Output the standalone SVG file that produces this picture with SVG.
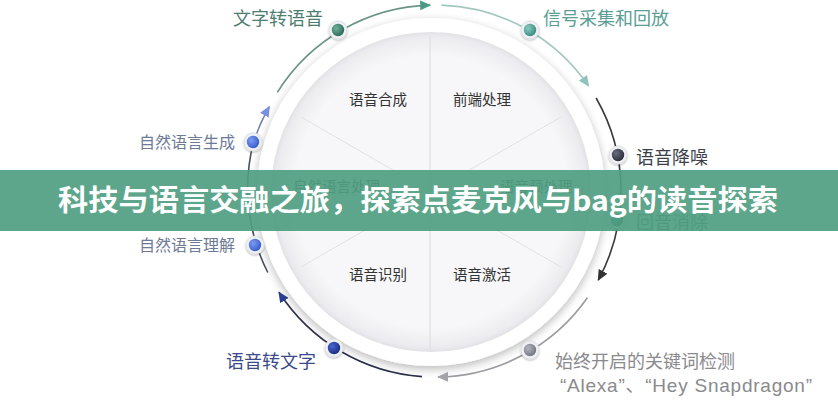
<svg xmlns="http://www.w3.org/2000/svg" width="838" height="400" viewBox="0 0 838 400">
<defs>
<style>
.cjk{font-family:"Noto Sans CJK SC","Noto Sans",sans-serif;}
.lbl{font-size:18px;}
.sm{font-size:16px;fill:#6e7a96;}
.ctr{font-size:14.5px;fill:#333;}
.arc{fill:none;stroke-width:1.6;}
.halo{fill:#eef0f3;stroke:#dfe2e6;stroke-width:1;}
.spoke{stroke:#e1e1e5;stroke-width:1;}
</style>
<filter id="sh" x="-20%" y="-20%" width="140%" height="140%">
<feGaussianBlur in="SourceAlpha" stdDeviation="5"/>
<feOffset dx="0" dy="3" result="b"/>
<feComponentTransfer><feFuncA type="linear" slope="0.28"/></feComponentTransfer>
<feMerge><feMergeNode/><feMergeNode in="SourceGraphic"/></feMerge>
</filter>
<filter id="dsh" x="-50%" y="-50%" width="200%" height="200%">
<feGaussianBlur in="SourceAlpha" stdDeviation="1.2"/>
<feOffset dx="0" dy="1"/>
<feComponentTransfer><feFuncA type="linear" slope="0.3"/></feComponentTransfer>
<feMerge><feMergeNode/><feMergeNode in="SourceGraphic"/></feMerge>
</filter>
<radialGradient id="disk" cx="50%" cy="50%" r="50%">
<stop offset="0.85" stop-color="#f7f7f9"/>
<stop offset="0.97" stop-color="#ececf0"/>
<stop offset="1" stop-color="#e2e2e6"/>
</radialGradient>
<radialGradient id="gGreen" cx="35%" cy="35%" r="65%"><stop offset="0" stop-color="#6fb09c"/><stop offset="1" stop-color="#2f6e5c"/></radialGradient>
<radialGradient id="gTeal" cx="35%" cy="35%" r="65%"><stop offset="0" stop-color="#8acbc0"/><stop offset="1" stop-color="#3f8f84"/></radialGradient>
<radialGradient id="gDark" cx="35%" cy="35%" r="65%"><stop offset="0" stop-color="#6a6d7c"/><stop offset="1" stop-color="#2e3140"/></radialGradient>
<radialGradient id="gDkGreen" cx="35%" cy="35%" r="65%"><stop offset="0" stop-color="#4f8f78"/><stop offset="1" stop-color="#1f5a46"/></radialGradient>
<radialGradient id="gGray" cx="35%" cy="35%" r="65%"><stop offset="0" stop-color="#b4b6be"/><stop offset="1" stop-color="#767984"/></radialGradient>
<radialGradient id="gNavy" cx="35%" cy="35%" r="65%"><stop offset="0" stop-color="#4a66d0"/><stop offset="1" stop-color="#1f2f8a"/></radialGradient>
<radialGradient id="gBlue" cx="35%" cy="35%" r="65%"><stop offset="0" stop-color="#7f9cf0"/><stop offset="1" stop-color="#3b5fd0"/></radialGradient>
<marker id="a1" viewBox="0 0 10 9" refX="9" refY="4.5" markerWidth="11" markerHeight="10" markerUnits="userSpaceOnUse" orient="auto"><path d="M0,0 L10,4.5 L0,9 z" fill="#4b9a86"/></marker>
<marker id="a2" viewBox="0 0 10 9" refX="9" refY="4.5" markerWidth="11" markerHeight="10" markerUnits="userSpaceOnUse" orient="auto"><path d="M0,0 L10,4.5 L0,9 z" fill="#8fc4bc"/></marker>
<marker id="a3" viewBox="0 0 10 9" refX="9" refY="4.5" markerWidth="11" markerHeight="10" markerUnits="userSpaceOnUse" orient="auto"><path d="M0,0 L10,4.5 L0,9 z" fill="#333"/></marker>
<marker id="a4" viewBox="0 0 10 9" refX="9" refY="4.5" markerWidth="11" markerHeight="10" markerUnits="userSpaceOnUse" orient="auto"><path d="M0,0 L10,4.5 L0,9 z" fill="#a3a3a8"/></marker>
<marker id="a5" viewBox="0 0 10 9" refX="9" refY="4.5" markerWidth="11" markerHeight="10" markerUnits="userSpaceOnUse" orient="auto"><path d="M0,0 L10,4.5 L0,9 z" fill="#2b3d8f"/></marker>
<marker id="a6" viewBox="0 0 10 9" refX="9" refY="4.5" markerWidth="11" markerHeight="10" markerUnits="userSpaceOnUse" orient="auto"><path d="M0,0 L10,4.5 L0,9 z" fill="#7b90dc"/></marker>
</defs>
<rect width="838" height="400" fill="#ffffff"/>

<g id="wheel">
<circle cx="431" cy="192" r="174" fill="#ffffff" filter="url(#sh)"/>
<circle cx="431" cy="192" r="160" fill="url(#disk)"/>
<line x1="430" y1="36" x2="430" y2="350" stroke="#dcdce0" stroke-width="1"/>
<line class="spoke" x1="405" y1="177" x2="301" y2="117"/>
<line class="spoke" x1="457" y1="177" x2="561" y2="117"/>
<line class="spoke" x1="405" y1="207" x2="301" y2="267"/>
<line class="spoke" x1="457" y1="207" x2="561" y2="267"/>
</g>

<g id="sector-labels" class="cjk">
<text class="ctr" x="349" y="105">语音合成</text>
<text class="ctr" x="453" y="105">前端处理</text>
<text class="ctr" x="293" y="192">自然语言处理</text>
<text class="ctr" x="500" y="192">语音预处理</text>
<text class="ctr" x="349" y="280">语音识别</text>
<text class="ctr" x="453" y="280">语音激活</text>
</g>

<g id="connectors">
<path class="arc" stroke="#6a9488" d="M277.3,92.4 A186,186 0 0 1 430.1,5.1" marker-end="url(#a1)"/>
<path class="arc" stroke="#a2c6c0" d="M441.5,5.1 A186,186 0 0 1 588.5,85.9" marker-end="url(#a2)"/>
<path class="arc" stroke="#3a3a3e" d="M596.1,98 A186,186 0 0 1 598.3,280" marker-end="url(#a3)"/>
<path class="arc" stroke="#9a9aa0" d="M587.4,297.7 A186,186 0 0 1 438.2,377" marker-end="url(#a4)"/>
<path class="arc" stroke="#2b2f4a" d="M422,376.6 A186,186 0 0 1 279,292.3" marker-end="url(#a5)"/>
<path class="arc" stroke="#4a4e5e" d="M267.8,272.5 A186,186 0 0 1 253.3,142.9"/>
<path class="arc" stroke="#6c7db4" d="M253.3,142.9 A186,186 0 0 1 269.3,106.6" marker-end="url(#a6)"/>
</g>

<g id="n-tts">
<circle class="halo" cx="338" cy="30" r="9" filter="url(#dsh)"/>
<circle cx="338" cy="30" r="6.2" fill="url(#gGreen)"/>
<text class="cjk lbl" x="233" y="24.5" fill="#4d7d6f">文字转语音</text>
</g>
<g id="n-signal">
<circle class="halo" cx="530" cy="30" r="9" filter="url(#dsh)"/>
<circle cx="530" cy="30" r="6.2" fill="url(#gTeal)"/>
<text class="cjk lbl" x="543" y="24.5" fill="#5a9e94">信号采集和回放</text>
</g>
<g id="n-denoise">
<circle class="halo" cx="618" cy="155" r="9" filter="url(#dsh)"/>
<circle cx="618" cy="155" r="6.2" fill="url(#gDark)"/>
<text class="cjk lbl" x="636" y="164" fill="#3d3f4a">语音降噪</text>
</g>
<g id="n-echo">
<circle class="halo" cx="617" cy="220" r="9" filter="url(#dsh)"/>
<circle cx="617" cy="220" r="6.2" fill="url(#gDkGreen)"/>
<text class="cjk lbl" x="636" y="229" fill="#456b5f">回音消除</text>
</g>
<g id="n-keyword">
<circle class="halo" cx="530" cy="350" r="9" filter="url(#dsh)"/>
<circle cx="530" cy="350" r="6.2" fill="url(#gGray)"/>
<text class="cjk lbl" x="555" y="368" fill="#8a8a8e">始终开启的关键词检测</text>
<text x="560" y="392" font-family="'Liberation Sans','Noto Sans CJK SC',sans-serif" font-size="19" fill="#8a8a8e" textLength="252" lengthAdjust="spacing">“Alexa”、“Hey Snapdragon”</text>
</g>
<g id="n-stt">
<circle class="halo" cx="334" cy="348" r="9" filter="url(#dsh)"/>
<circle cx="334" cy="348" r="6.2" fill="url(#gNavy)"/>
<text class="cjk lbl" x="226" y="368" fill="#3b4a8a">语音转文字</text>
</g>
<g id="n-nlu">
<circle class="halo" cx="255" cy="245" r="9" filter="url(#dsh)"/>
<circle cx="255" cy="245" r="6.2" fill="url(#gBlue)"/>
<text class="cjk sm" x="139" y="251">自然语言理解</text>
</g>
<g id="n-nlg">
<circle class="halo" cx="253" cy="142" r="9" filter="url(#dsh)"/>
<circle cx="253" cy="142" r="6.2" fill="url(#gBlue)"/>
<text class="cjk sm" x="139" y="148">自然语言生成</text>
</g>

<g id="banner">
<rect x="0" y="170" width="838" height="61" fill="#4f9e82" fill-opacity="0.92"/>
<text x="418" y="211" text-anchor="middle" font-family="'Noto Sans CJK SC','Noto Sans',sans-serif" font-weight="700" font-size="29" fill="#ffffff" textLength="720" lengthAdjust="spacingAndGlyphs">科技与语言交融之旅，探索点麦克风与bag的读音探索</text>
</g>
</svg>
